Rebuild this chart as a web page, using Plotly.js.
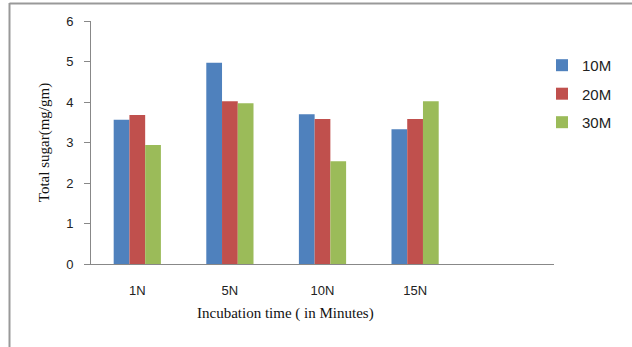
<!DOCTYPE html>
<html>
<head>
<meta charset="utf-8">
<script src="https://cdn.plot.ly/plotly-3.0.1.min.js"></script>
<style>html,body{margin:0;padding:0;background:#fff;}#chart{width:632px;height:347px;}</style>
</head>
<body>
<div id="chart"></div>
<script>
var categories = ['1N', '5N', '10N', '15N'];
var seriesNames = ['10M', '20M', '30M'];
var values10M = [3.56, 4.97, 3.70, 3.33];
var values20M = [3.68, 4.02, 3.58, 3.58];
var values30M = [2.94, 3.97, 2.54, 4.02];
var colors = ['#4F81BD', '#C0504D', '#9BBB59'];
var yTickVals = [0, 1, 2, 3, 4, 5, 6];

var allValues = [values10M, values20M, values30M];
var traces = allValues.map(function (v, i) {
  return {
    type: 'bar',
    name: seriesNames[i],
    x: categories,
    y: v,
    marker: {color: colors[i], line: {width: 0}},
    legendgroup: 'g' + i
  };
});

var layout = {
  width: 632, height: 347,
  margin: {l: 91, r: 78, t: 21, b: 83},
  paper_bgcolor: '#fff', plot_bgcolor: '#fff',
  barmode: 'group', bargap: 0.49, bargroupgap: 0,
  showlegend: true,
  legend: {x: (542 - 91) / 463, xanchor: 'left', y: 0.885, yanchor: 'top', tracegroupgap: 6,
    font: {family: 'Liberation Sans, Arial, sans-serif', size: 15, color: '#222'},
    itemwidth: 30, bgcolor: 'rgba(0,0,0,0)'},
  xaxis: {type: 'category', range: [-0.5, 4.5], showline: true, linecolor: '#888', linewidth: 1,
    ticks: '', showgrid: false, zeroline: false, ticklabelstandoff: 14,
    tickfont: {family: 'Liberation Sans, Arial, sans-serif', size: 13, color: '#222'}},
  yaxis: {range: [0, 6], tickvals: yTickVals, showline: true, linecolor: '#888', linewidth: 1,
    ticks: 'outside', ticklen: 6, tickcolor: '#888', showgrid: false, zeroline: false,
    ticklabelstandoff: 8,
    tickfont: {family: 'Liberation Sans, Arial, sans-serif', size: 13, color: '#222'},
    title: {text: 'Total sugar(mg/gm)', standoff: 12,
      font: {family: 'Liberation Serif, Times New Roman, serif', size: 15, color: '#111'}}},
  annotations: [{xref: 'paper', yref: 'paper', x: (285 - 91) / 463, y: (264 - 313) / 243,
    text: 'Incubation time ( in Minutes)', showarrow: false, xanchor: 'center', yanchor: 'middle',
    font: {family: 'Liberation Serif, Times New Roman, serif', size: 15, color: '#111'}}],
  shapes: [
    {type: 'line', xref: 'paper', yref: 'paper', x0: (9.5 - 91) / 463, x1: (9.5 - 91) / 463,
      y0: (264 - 3) / 243, y1: (264 - 350) / 243, line: {color: '#999', width: 2}},
    {type: 'line', xref: 'paper', yref: 'paper', x0: (9.5 - 91) / 463, x1: (640 - 91) / 463,
      y0: (264 - 3.5) / 243, y1: (264 - 3.5) / 243, line: {color: '#999', width: 2}}
  ]
};

Plotly.newPlot('chart', traces, layout, {displayModeBar: false, staticPlot: true});
</script>
</body>
</html>
